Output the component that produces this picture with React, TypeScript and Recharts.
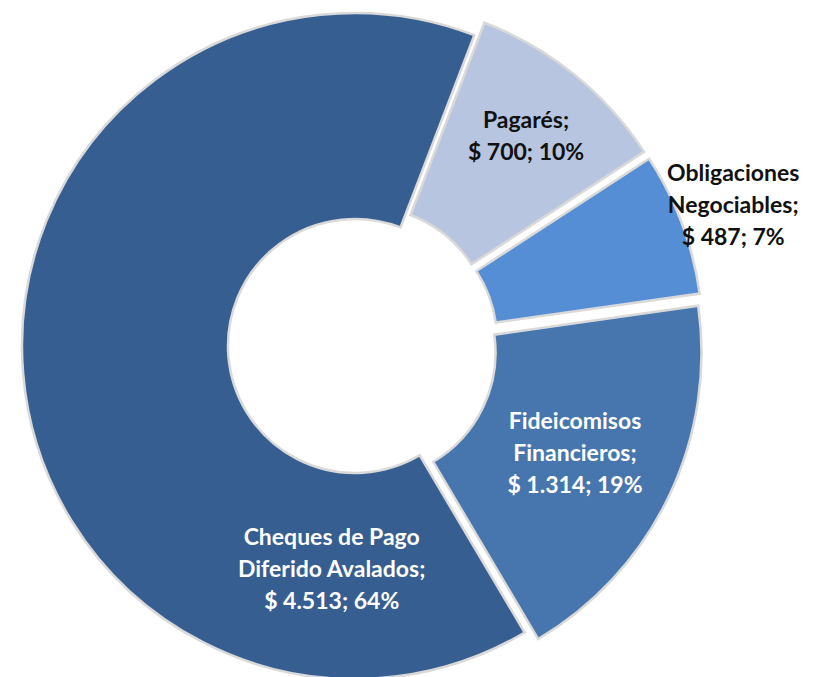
import { PieChart, Pie, Cell, Sector } from 'recharts'

const categories = ['Pagarés', 'Obligaciones Negociables', 'Fideicomisos Financieros', 'Cheques de Pago Diferido Avalados']
const nameLines = [['Pagarés;'], ['Obligaciones', 'Negociables;'], ['Fideicomisos', 'Financieros;'], ['Cheques de Pago', 'Diferido Avalados;']]
const amounts = [700, 487, 1314, 4513]
const colours = ['#b7c5e0', '#558ed5', '#4775ad', '#365e91']
const textColours = ['#111111', '#111111', '#ffffff', '#ffffff']
const explode = [16, 16, 15, 0]
// label placement: distance from centre, optional fixed angle
const labelAt: { r: number; angle?: number }[] = [{ r: 272 }, { r: 404 }, { r: 244 }, { r: 223, angle: -96 }]

const data = categories.map((name, i) => ({ name, value: amounts[i] }))

const RAD = Math.PI / 180
const fmt = (v: number) => String(v).replace(/\B(?=(\d{3})+(?!\d))/g, '.')

function ExplodedSector(props: any) {
  const i = categories.indexOf(props.name ?? props.payload?.name)
  const d = explode[i] ?? 0
  const a = -props.midAngle * RAD
  return <Sector {...props} cx={props.cx + d * Math.cos(a)} cy={props.cy + d * Math.sin(a)} />
}

function renderLabel(props: any) {
  const { cx, cy, midAngle, value, percent } = props
  const i = categories.indexOf(props.name ?? props.payload?.name)
  const pos = labelAt[i]
  const ang = (pos.angle ?? midAngle) * RAD
  const x = cx + pos.r * Math.cos(-ang)
  const y = cy + pos.r * Math.sin(-ang)
  const lines = [...nameLines[i], `$ ${fmt(value)}; ${Math.round(percent * 100)}%`]
  const lh = 32
  const y0 = y - ((lines.length - 1) * lh) / 2
  return (
    <text
      key={`lbl-${i}`}
      x={x}
      y={y0}
      textAnchor="middle"
      fill={textColours[i]}
      style={{ fontFamily: 'Lato, sans-serif', fontWeight: 700, fontSize: 23 }}
    >
      {lines.map((t, k) => (
        <tspan key={k} x={x} y={y0 + k * lh} dominantBaseline="central">{t}</tspan>
      ))}
    </text>
  )
}

export default function App() {
  return (
    <PieChart width={806} height={669}>
      <Pie
        data={data}
        dataKey="value"
        nameKey="name"
        cx={342}
        cy={333}
        innerRadius={127}
        outerRadius={333}
        startAngle={69}
        endAngle={-291}
        stroke="#d9d9d9"
        strokeWidth={2.5}
        shape={ExplodedSector}
        label={renderLabel}
        labelLine={false}
        isAnimationActive={false}
      >
        {data.map((d, i) => (
          <Cell key={d.name} fill={colours[i]} />
        ))}
      </Pie>
    </PieChart>
  )
}
